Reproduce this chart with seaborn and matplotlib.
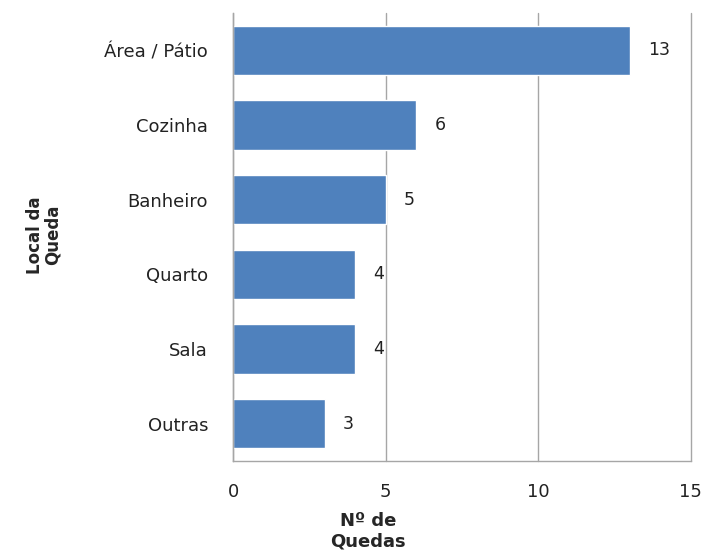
import numpy as np
import pandas as pd
import matplotlib
matplotlib.use('Agg')
import matplotlib.pyplot as plt
import seaborn as sns

# data
locais = ['Área / Pátio', 'Cozinha', 'Banheiro', 'Quarto', 'Sala', 'Outras']
quedas = [13, 6, 5, 4, 4, 3]

df = pd.DataFrame({'local': locais, 'quedas': quedas})

sns.set_style('white')
plt.rcParams['font.family'] = ['DejaVu Sans']

fig = plt.figure(figsize=(7.05, 5.53), dpi=100)
ax = fig.add_axes([0.3305, 0.1664, 0.6495, 0.81])

sns.barplot(data=df, x='quedas', y='local', orient='h', color='#4F81BD',
            saturation=1, width=0.66, ax=ax)

# value labels
for i, v in enumerate(quedas):
    ax.text(v + 0.6, i, str(v), va='center', ha='left', fontsize=12.5, color='#222222')

ax.set_xlim(0, 15)
ax.set_ylim(5.5, -0.5)
ax.set_xticks([0, 5, 10, 15])
ax.xaxis.grid(True, color='#a6a6a6', linewidth=1)
ax.set_axisbelow(True)
for gl in ax.get_xgridlines():
    gl.set_clip_on(False)

# category boundary ticks on the y axis
ax.set_yticks(np.arange(-0.5, 6, 1), minor=True)
ax.tick_params(axis='y', which='major', length=0, labelsize=13, pad=18, colors='#222222')
ax.tick_params(axis='y', which='minor', length=8, color='#a6a6a6', direction='out')
ax.tick_params(axis='x', length=8, color='#a6a6a6', direction='out', labelsize=13,
               pad=8, colors='#222222')

for s in ['top', 'right']:
    ax.spines[s].set_visible(False)
for s in ['left', 'bottom']:
    ax.spines[s].set_color('#a6a6a6')
    ax.spines[s].set_linewidth(1)

ax.set_xlabel('Nº de\nQuedas', fontsize=13, fontweight='bold', labelpad=8, linespacing=1.15)
ax.xaxis.set_label_coords(0.295, -0.115)
ax.xaxis.label.set_va('top')
ax.set_ylabel('')
fig.text(0.062, 0.575, 'Local da\nQueda', rotation=90, ha='center', va='center',
         fontsize=12, fontweight='bold', linespacing=1.0)

fig.savefig('out.png', dpi=100)
